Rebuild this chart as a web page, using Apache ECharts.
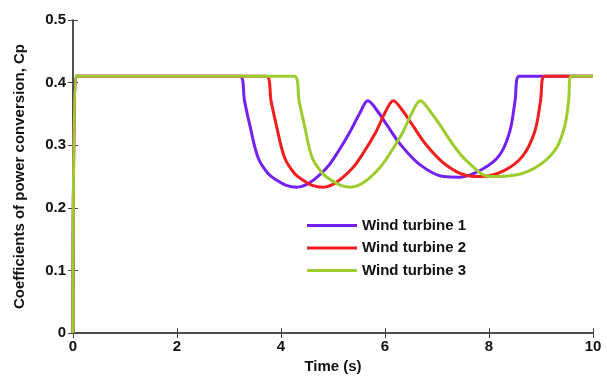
<!DOCTYPE html>
<html>
<head>
<meta charset="utf-8">
<script src="https://cdn.jsdelivr.net/npm/echarts@6/dist/echarts.min.js"></script>
<style>
  html, body { margin: 0; padding: 0; background: #fff; }
  #cp { width: 607px; height: 379px; }
</style>
</head>
<body>
<div id="cp"></div>
<script>
// values: [time (s), Cp]
var turbine1 = [
    [0, 0], [0.05, 0.41], [3.21, 0.41], [3.30, 0.37], [3.40, 0.332], [3.56, 0.28],
    [3.75, 0.255], [3.92, 0.244], [4.10, 0.236], [4.30, 0.233], [4.55, 0.24],
    [4.88, 0.264], [5.10, 0.29], [5.33, 0.322], [5.52, 0.352], [5.67, 0.371],
    [5.85, 0.355], [6.04, 0.332], [6.29, 0.302], [6.67, 0.269], [7.12, 0.25],
    [7.44, 0.249], [7.88, 0.262], [8.21, 0.285], [8.40, 0.322], [8.50, 0.37],
    [8.58, 0.41], [10, 0.41]
];
var turbine2 = [
    [0, 0], [0.05, 0.41], [3.72, 0.41], [3.81, 0.37], [3.91, 0.332], [4.07, 0.28],
    [4.26, 0.255], [4.43, 0.244], [4.60, 0.236], [4.81, 0.233], [5.05, 0.24],
    [5.38, 0.264], [5.60, 0.29], [5.83, 0.322], [6.00, 0.352], [6.16, 0.371],
    [6.34, 0.355], [6.53, 0.332], [6.78, 0.302], [7.15, 0.27], [7.55, 0.252],
    [7.85, 0.25], [8.30, 0.26], [8.65, 0.283], [8.88, 0.322], [8.99, 0.37],
    [9.07, 0.41], [10, 0.41]
];
var turbine3 = [
    [0, 0], [0.05, 0.41], [4.26, 0.41], [4.35, 0.37], [4.45, 0.332], [4.60, 0.28],
    [4.80, 0.255], [4.97, 0.244], [5.15, 0.236], [5.34, 0.233], [5.58, 0.24],
    [5.90, 0.264], [6.12, 0.29], [6.35, 0.322], [6.52, 0.352], [6.68, 0.371],
    [6.86, 0.355], [7.06, 0.332], [7.30, 0.302], [7.57, 0.275], [8.02, 0.25],
    [8.54, 0.253], [8.98, 0.269], [9.30, 0.296], [9.46, 0.332], [9.53, 0.37],
    [9.58, 0.41], [10, 0.41]
];
var seriesNames = ['Wind turbine 1', 'Wind turbine 2', 'Wind turbine 3'];
var seriesColors = ['#7420f5', '#f21d1d', '#9ccc2e'];

window.onload = function () {
    cpChart([turbine1, turbine2, turbine3]);
};

function cpChart(allData) {
    var axisCol = '#444';
    var series = [];
    for (var i = 0; i < allData.length; i++) {
        series.push({
            name: seriesNames[i],
            type: 'line',
            data: allData[i],
            symbol: 'none',
            smooth: 0.35,
            lineStyle: { color: seriesColors[i], width: 3 },
            itemStyle: { color: seriesColors[i] },
            z: 2 + i
        });
    }

    var option = {
        animation: false,
        grid: { left: 73, right: 14, top: 20, bottom: 41 },
        legend: {
            orient: 'vertical',
            left: 307,
            top: 218,
            padding: 0,
            icon: 'rect',
            itemWidth: 50,
            itemHeight: 3,
            itemGap: 7.5,
            data: seriesNames,
            textStyle: {
                fontFamily: 'Liberation Sans',
                fontWeight: 'bold',
                fontSize: 15,
                color: '#111'
            }
        },
        xAxis: [{
            type: 'value',
            min: 0, max: 10, interval: 2,
            name: 'Time (s)',
            nameLocation: 'middle',
            nameGap: 24,
            nameTextStyle: { fontFamily: 'Liberation Sans', fontWeight: 'bold', fontSize: 15, color: '#111' },
            axisLine: { lineStyle: { color: axisCol, width: 1.5 } },
            axisTick: { inside: true, length: 5, lineStyle: { color: axisCol } },
            axisLabel: { fontFamily: 'Liberation Sans', fontWeight: 'bold', fontSize: 15, color: '#111', margin: 6 },
            splitLine: { show: false }
        }, {
            type: 'value',
            position: 'top',
            min: 0, max: 10, interval: 2,
            axisLine: { show: true, lineStyle: { color: axisCol, width: 1.5 } },
            axisTick: { inside: true, length: 5, lineStyle: { color: axisCol } },
            axisLabel: { show: false },
            splitLine: { show: false }
        }],
        yAxis: [{
            type: 'value',
            min: 0, max: 0.5, interval: 0.1,
            name: 'Coefficients of power conversion, Cp',
            nameLocation: 'middle',
            nameGap: 46,
            nameTextStyle: { fontFamily: 'Liberation Sans', fontWeight: 'bold', fontSize: 15, color: '#111' },
            axisLine: { show: true, lineStyle: { color: axisCol, width: 1.5 } },
            axisTick: { inside: true, length: 5, lineStyle: { color: axisCol } },
            axisLabel: { fontFamily: 'Liberation Sans', fontWeight: 'bold', fontSize: 15, color: '#111', margin: 7 },
            splitLine: { show: false }
        }, {
            type: 'value',
            position: 'right',
            min: 0, max: 0.5, interval: 0.1,
            axisLine: { show: true, lineStyle: { color: axisCol, width: 1.5 } },
            axisTick: { inside: true, length: 5, lineStyle: { color: axisCol } },
            axisLabel: { show: false },
            splitLine: { show: false }
        }],
        series: series
    };

    var myChart = echarts.init(document.getElementById('cp'));
    myChart.setOption(option);
}
</script>
</body>
</html>
